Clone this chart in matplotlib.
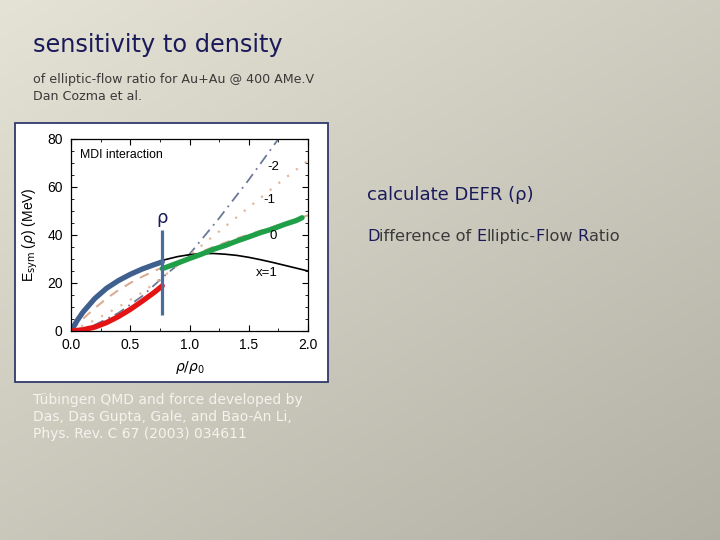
import numpy as np
import matplotlib
matplotlib.use("Agg")
import matplotlib.pyplot as plt
from matplotlib.ticker import MultipleLocator, FuncFormatter
from matplotlib.font_manager import FontProperties, findfont, get_font

# ------------------------------------------------------------------ data
# E_sym(rho) curves for the MDI interaction
rho_x1 = [0.0, 0.05, 0.1, 0.2, 0.3, 0.4, 0.5, 0.6, 0.7, 0.8, 0.9, 1.0,
          1.1, 1.2, 1.3, 1.4, 1.5, 1.6, 1.7, 1.8, 1.9, 2.0]
esym_x1 = [0.0, 4.2, 7.8, 13.5, 17.8, 21.2, 24.0, 26.3, 28.2, 29.8, 31.0, 31.8,
           32.2, 32.3, 32.0, 31.5, 30.7, 29.7, 28.6, 27.4, 26.2, 25.0]

rho_x0 = [0.0, 0.1, 0.2, 0.3, 0.4, 0.5, 0.6, 0.7, 0.8, 1.0, 1.2, 1.4, 1.6, 1.8, 2.0]
esym_x0 = [0.0, 5.0, 9.5, 13.5, 17.0, 20.0, 22.6, 25.0, 27.0, 31.0, 35.0, 38.6, 41.8, 45.0, 48.2]

rho_xm1 = [0.0, 0.2, 0.4, 0.6, 0.8, 1.0, 1.25, 1.5, 1.75, 2.0]
esym_xm1 = [0.0, 4.5, 10.0, 16.0, 23.5, 31.5, 41.5, 51.5, 61.5, 71.0]

rho_xm2 = [0.0, 0.2, 0.4, 0.6, 0.8, 0.9, 1.0, 1.25, 1.5, 1.75]
esym_xm2 = [0.0, 2.5, 7.5, 14.5, 23.5, 27.5, 32.0, 47.0, 63.0, 80.0]

# highlighted pieces (thick)
rho_blue = [0.0, 0.05, 0.1, 0.2, 0.3, 0.4, 0.5, 0.6, 0.7, 0.77]
esym_blue = [0.0, 4.2, 7.8, 13.5, 17.8, 21.0, 23.6, 25.8, 27.6, 28.8]

rho_red = [0.0, 0.1, 0.2, 0.3, 0.4, 0.5, 0.6, 0.7, 0.77]
esym_red = [0.0, 0.5, 1.6, 3.5, 6.0, 9.0, 12.4, 16.0, 18.8]

rho_green = [0.77, 0.8, 0.9, 1.0, 1.1, 1.2, 1.3, 1.4, 1.5, 1.6, 1.7, 1.8, 1.9, 1.95]
esym_green = [26.0, 26.5, 28.3, 30.2, 32.0, 34.0, 35.6, 37.5, 39.2, 41.0, 42.5, 44.4, 46.0, 47.2]

rho_cut = 0.765
cut_range = (6.5, 42.0)

curve_labels = ["-2", "-1", "0", "x=1"]
label_pos = [(1.71, 68.5), (1.67, 54.5), (1.71, 39.5), (1.65, 24.0)]

NAVY = "#1a1a5a"
GREY = "#3a3a3a"
W, H = 720, 540

fig = plt.figure(figsize=(7.2, 5.4), dpi=100)

# ------------------------------------------------------------------ background
bg = fig.add_axes([0, 0, 1, 1])
yy, xx = np.mgrid[0:1:200j, 0:1:200j]
t = 0.55 * yy + 0.45 * xx
c0 = np.array([0.898, 0.890, 0.838])
c1 = np.array([0.700, 0.690, 0.645])
img = c0[None, None, :] * (1 - t[..., None]) + c1[None, None, :] * t[..., None]
bg.imshow(img, extent=[0, 1, 0, 1], aspect="auto", origin="upper")
bg.set_xlim(0, 1)
bg.set_ylim(0, 1)
bg.axis("off")

# white panel holding the figure
px, py, pw, ph = 15, 123, 313, 259
bg.add_patch(plt.Rectangle((px / W, 1 - (py + ph) / H), pw / W, ph / H,
                           facecolor="white", edgecolor="#2f3a6a", lw=1.3))

# ------------------------------------------------------------------ plot
ax = fig.add_axes([71 / W, 1 - 331 / H, 237 / W, 192 / H])
ax.plot(rho_xm2, esym_xm2, color="#6b7896", lw=1.3, ls=(0, (6, 3, 1, 3)))
ax.plot(rho_xm1, esym_xm1, color="#e2b89c", lw=1.6, ls=(0, (1, 4)))
ax.plot(rho_x0, esym_x0, color="#d9a88e", lw=1.4, ls=(0, (5, 4)))
ax.plot(rho_x1, esym_x1, color="black", lw=1.2)
ax.plot(rho_blue, esym_blue, color="#3f5f8e", lw=3.8, solid_capstyle="round")
ax.plot(rho_red, esym_red, color="#e41414", lw=3.8, solid_capstyle="round")
ax.plot(rho_green, esym_green, color="#1fa048", lw=3.8, solid_capstyle="round")
ax.vlines(rho_cut, *cut_range, color="#4a6d9e", lw=2.3)
ax.text(rho_cut, cut_range[1] + 1.5, "ρ", color=NAVY, fontsize=13,
        ha="center", va="bottom", family="DejaVu Sans")

for lab, (lx, ly) in zip(curve_labels, label_pos):
    ax.text(lx, ly, lab, fontsize=9.5, ha="center", va="center",
            family="Liberation Sans")
ax.text(0.08, 73.5, "MDI interaction", fontsize=8.8, ha="left", va="center",
        family="Liberation Sans")

ax.set_xlim(0, 2.0)
ax.set_ylim(0, 80)
ax.xaxis.set_major_locator(MultipleLocator(0.5))
ax.xaxis.set_minor_locator(MultipleLocator(0.25))
ax.yaxis.set_major_locator(MultipleLocator(20))
ax.yaxis.set_minor_locator(MultipleLocator(5))
ax.xaxis.set_major_formatter(FuncFormatter(lambda v, p: f"{v:.1f}"))
ax.tick_params(which="both", direction="in", top=True, right=True, labelsize=10)
ax.tick_params(which="major", length=4)
ax.tick_params(which="minor", length=2)
ax.tick_params(axis="x", pad=5)
ax.tick_params(axis="y", pad=6)
for lbl in ax.get_xticklabels() + ax.get_yticklabels():
    lbl.set_family("Liberation Sans")
ax.set_xlabel(r"$\rho/\rho_0$", fontsize=10, labelpad=5)
ax.set_ylabel(r"E$_{\rm sym}$ ($\rho$) (MeV)", fontsize=10, labelpad=5,
              family="Liberation Sans")
for s in ax.spines.values():
    s.set_linewidth(0.9)

# ------------------------------------------------------------------ slide text
fig.text(33 / W, 1 - 45 / H, "sensitivity to density", color=NAVY,
         fontsize=17.3, va="center", ha="left")
fig.text(33 / W, 1 - 80 / H, "of elliptic-flow ratio for Au+Au @ 400 AMe.V",
         color=GREY, fontsize=9.1, va="center", ha="left")
fig.text(33 / W, 1 - 96 / H, "Dan Cozma et al.", color=GREY, fontsize=9.1,
         va="center", ha="left")

fig.text(367 / W, 1 - 195 / H, "calculate DEFR (ρ)", color=NAVY,
         fontsize=13, va="center", ha="left")

# "Difference of Elliptic-Flow Ratio" with the initials in navy; pieces are
# placed at the pen position given by the font's own glyph advances
parts = [("D", NAVY), ("ifference of ", GREY), ("E", NAVY), ("lliptic-", GREY),
         ("F", NAVY), ("low ", GREY), ("R", NAVY), ("atio", GREY)]
x0, y0 = 367 / W, 1 - 241 / H
DEFR_FS = 11.6

ft = get_font(findfont(FontProperties(family="DejaVu Sans")))
ft.set_size(DEFR_FS, fig.dpi)


def pen_advance(s):
    pen, prev = 0.0, None
    for ch in s:
        idx = ft.get_char_index(ord(ch))
        if prev is not None:
            pen += ft.get_kerning(prev, idx, 0) / 64.0
        pen += ft.load_char(ord(ch)).linearHoriAdvance / 65536.0
        prev = idx
    return pen


prefix = ""
for txt, col in parts:
    dx = pen_advance(prefix)
    fig.text(x0 + dx / fig.bbox.width, y0, txt, color=col, fontsize=DEFR_FS,
             va="baseline", ha="left")
    prefix += txt

credit = ["Tübingen QMD and force developed by",
          "Das, Das Gupta, Gale, and Bao-An Li,",
          "Phys. Rev. C 67 (2003) 034611"]
for i, line in enumerate(credit):
    fig.text(33 / W, 1 - (400 + 17 * i) / H, line, color="#f4f3ec",
             fontsize=10, va="center", ha="left")

fig.savefig("out.png", dpi=100)
